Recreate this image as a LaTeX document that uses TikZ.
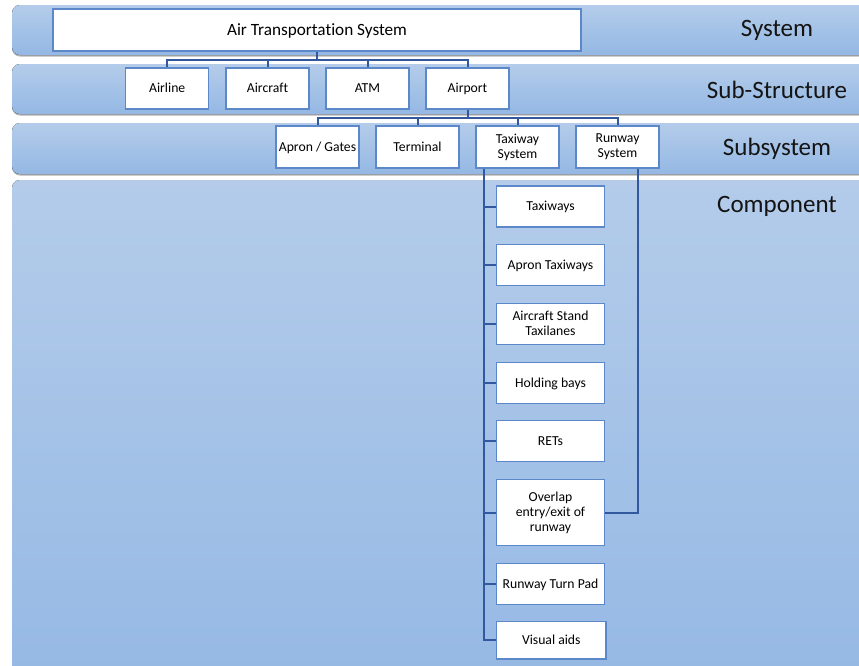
\documentclass[tikz,border=0pt]{standalone}
\usepackage{fontspec}
\setmainfont{Carlito}[Ligatures=NoCommon]
\definecolor{bandtop}{RGB}{180,204,234}
\definecolor{bandbot}{RGB}{148,184,228}
\definecolor{boxline}{RGB}{92,135,200}
\definecolor{linkblue}{RGB}{50,88,160}
\begin{document}
\begin{tikzpicture}[x=1pt,y=-1pt,
  band/.style={rounded corners=8pt, top color=bandtop, bottom color=bandbot, draw=none},
  bandshadow/.style={rounded corners=8pt, fill=black!30, draw=none},
  box/.style={draw=boxline, fill=white, line width=1.1pt, align=center, inner sep=0pt,
    minimum width=83, minimum height=41, font=\fontsize{13.7}{15}\selectfont},
  oneline/.style={text height=8.8pt, text depth=0pt},
  comp/.style={box, minimum width=107.6},
  link/.style={draw=linkblue, line width=2pt},
  level/.style={font=\fontsize{25}{29}\selectfont, text=black!92}
]
\useasboundingbox (0,0) rectangle (859,665);
\begin{scope}
\clip (0,0) rectangle (859,665);
% level bands
\fill[bandshadow] (12,6.5) rectangle (880,56.5);
\fill[band] (12,5) rectangle (880,55);
\fill[bandshadow] (12,65.5) rectangle (880,115.5);
\fill[band] (12,64) rectangle (880,114);
\fill[bandshadow] (12,124.5) rectangle (880,175.5);
\fill[band] (12,123) rectangle (880,174);
\fill[bandshadow] (12,181.5) rectangle (880,700);
\fill[band] (12,180) rectangle (880,700);
\end{scope}

% level names
\node[level] (lsys) at (777,30) {System};
\node[level] (lsub) at (777,90) {Sub-Structure};
\node[level] (lssy) at (777,149) {Subsystem};
\node[level] (lcmp) at (777,206) {Component};

% system
\node[box, text height=11.1pt, text depth=0pt, minimum width=528, minimum height=42, font=\fontsize{17.2}{20}\selectfont] (ats) at (317,30) {Air Transportation System};

% sub-structure
\node[box, oneline] (airline)  at (167.2,88.5) {Airline};
\node[box, oneline] (aircraft) at (267.5,88.5) {Aircraft};
\node[box, oneline] (atm)      at (367.5,88.5) {ATM};
\node[box, oneline] (airport)  at (467.5,88.5) {Airport};

% subsystems
\node[box, oneline, minimum height=42] (apron)    at (317.5,147) {Apron / Gates};
\node[box, oneline, minimum height=42] (terminal) at (417.5,147) {Terminal};
\node[box, minimum height=42] (taxiway)  at (517.5,147) {Taxiway\\System};
\node[box, minimum height=42] (runway)   at (617.5,147) {Runway\\System};

% components
\node[comp, oneline] (taxiways) at (550.5,206.5) {Taxiways};
\node[comp, oneline] (aprontx)  at (550.5,265.2) {Apron Taxiways};
\node[comp] (stand)    at (550.5,323.7) {Aircraft Stand\\Taxilanes};
\node[comp, oneline] (holding)  at (550.5,382.8) {Holding bays};
\node[comp, oneline] (rets)     at (550.5,441.3) {RETs};
\node[comp, minimum height=66.4] (overlap) at (550.5,512.5) {Overlap\\entry/exit of\\runway};
\node[comp, oneline] (turnpad)  at (550.5,583.8) {Runway Turn Pad};
\node[comp, oneline, minimum width=109.3, minimum height=37.3] (visual) at (551.3,640.3) {Visual aids};

% connectors
\coordinate (b1) at (317,60);
\draw[link] (ats.south) -- (b1);
\foreach \n in {airline,aircraft,atm,airport}
  \draw[link] (b1) -| (\n.north);

\coordinate (b2) at (467.5,118);
\draw[link] (airport.south) -- (b2);
\foreach \n in {apron,terminal,taxiway,runway}
  \draw[link] (b2) -| (\n.north);

\coordinate (tk) at (484.3,168);
\draw[link] (taxiway.south -| tk) |- (visual.west);
\foreach \n in {taxiways,aprontx,stand,holding,rets,overlap,turnpad}
  \draw[link] (tk |- \n.west) -- (\n.west);

\coordinate (rk) at (637.7,168);
\draw[link] (runway.south -| rk) |- (overlap.east);
\end{tikzpicture}
\end{document}
